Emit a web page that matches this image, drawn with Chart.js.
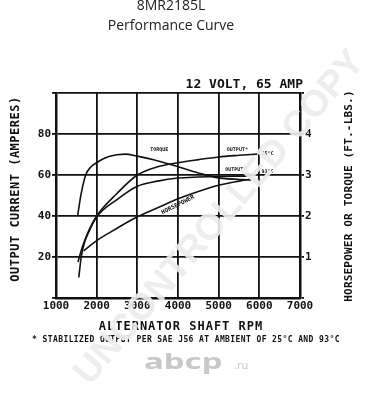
<!DOCTYPE html>
<html>
<head>
<meta charset="utf-8">
<script src="https://cdn.jsdelivr.net/npm/chart.js@4.4.1/dist/chart.umd.min.js"></script>
<style>
  html, body { margin: 0; padding: 0; background: #fff; }
  #perfChart { display: block; }
</style>
</head>
<body>
<canvas id="perfChart" width="371" height="400"></canvas>
<script>
// tick labels
const rpmTicks = [1000, 2000, 3000, 4000, 5000, 6000, 7000];
const ampTicks = [20, 40, 60, 80];
const hpTicks = [1, 2, 3, 4];

// output current at 25°C (amperes)
const out25Rpm  = [1540, 1650, 1780, 2000, 2500, 3000, 3500, 4000, 4500, 5000, 5500, 5950];
const out25Amps = [17.6, 25, 31.7, 40, 51, 60, 64, 66, 67.5, 68.8, 69.6, 70.2];

// output current at 93°C (amperes)
const out93Rpm  = [1560, 1620, 1700, 1800, 2000, 2500, 3000, 3500, 4000, 4500, 5000, 5800];
const out93Amps = [10, 20, 27, 32, 39.5, 48, 54.5, 57, 58.5, 59, 59.3, 59.5];

// torque (ft.-lbs.)
const torqueRpm = [1530, 1620, 1730, 1850, 2000, 2300, 2700, 3000, 3400, 4000, 4500, 5000, 5800];
const torqueVal = [2.0, 2.55, 3.0, 3.19, 3.3, 3.45, 3.51, 3.46, 3.37, 3.2, 3.05, 2.93, 2.88];

// horsepower
const hpRpm = [1680, 2000, 2500, 3000, 3500, 4000, 4500, 5000, 5500, 5800];
const hpVal = [1.15, 1.4, 1.7, 1.98, 2.2, 2.42, 2.6, 2.75, 2.85, 2.9];

const MONO = '"DejaVu Sans Mono", "Liberation Mono", monospace';

function pts(xs, ys) {
  return xs.map((x, i) => ({ x: x, y: ys[i] }));
}

function line(data, axis) {
  return {
    data: data,
    yAxisID: axis,
    borderColor: '#111',
    borderWidth: 1.6,
    pointRadius: 0,
    fill: false,
    cubicInterpolationMode: 'monotone'
  };
}

// texts around and inside the chart
const textPlugin = {
  id: 'textPlugin',
  afterDraw(chart) {
    const c = chart.ctx;
    const sx = chart.scales.x, sy = chart.scales.y;
    c.save();
    c.fillStyle = '#222';
    c.textAlign = 'center';
    c.textBaseline = 'alphabetic';
    c.font = '14px "Open Sans", "Noto Sans", sans-serif';
    c.fillText('8MR2185L', 171, 10);
    c.fillText('Performance Curve', 171, 30);

    c.fillStyle = '#111';
    c.font = 'bold 13px ' + MONO;
    c.textAlign = 'right';
    c.fillText('12 VOLT, 65 AMP', 303, 88);

    c.textAlign = 'center';
    c.font = 'bold 12px ' + MONO;
    c.letterSpacing = '1px';
    c.fillText('ALTERNATOR SHAFT RPM', 181, 330);
    c.font = 'bold 8px ' + MONO;
    c.letterSpacing = '0.4px';
    c.fillText('* STABILIZED OUTPUT PER SAE J56 AT AMBIENT OF 25°C AND 93°C', 186, 342);
    c.letterSpacing = '0px';

    // axis titles
    c.save();
    c.translate(19, 189);
    c.rotate(-Math.PI / 2);
    c.font = 'bold 12px ' + MONO;
    c.letterSpacing = '0.5px';
    c.fillText('OUTPUT CURRENT (AMPERES)', 0, 0);
    c.restore();
    c.save();
    c.translate(352, 196);
    c.rotate(-Math.PI / 2);
    c.font = 'bold 11px ' + MONO;
    c.letterSpacing = '0.2px';
    c.fillText('HORSEPOWER OR TORQUE (FT.-LBS.)', 0, 0);
    c.restore();

    // curve labels
    c.font = 'bold 5px ' + MONO;
    c.textBaseline = 'middle';
    const lab = (t, r, a) => c.fillText(t, sx.getPixelForValue(r), sy.getPixelForValue(a));
    lab('TORQUE', 3540, 72.2);
    lab('OUTPUT*', 5460, 72.2);
    lab('25°C', 6200, 70.2);
    lab('OUTPUT*', 5420, 62.4);
    lab('93°C', 6200, 61.5);
    c.save();
    c.translate(sx.getPixelForValue(4000), sy.getPixelForValue(45.4));
    c.rotate(-0.47);
    c.font = 'bold 6px ' + MONO;
    c.fillText('HORSEPOWER', 0, 0);
    c.restore();

    // site logo
    c.fillStyle = '#c8c8c8';
    c.textBaseline = 'alphabetic';
    c.textAlign = 'left';
    c.save();
    c.translate(144, 369);
    c.scale(1.5, 1);
    c.font = 'bold 22px "Noto Sans", sans-serif';
    c.fillText('abcp', 0, 0);
    c.restore();
    c.font = '11px "Noto Sans", sans-serif';
    c.fillText('.ru', 234, 369);

    // watermark
    c.save();
    c.translate(220, 218);
    c.rotate(-0.865);
    c.font = 'bold 37px "Liberation Sans", Arial, sans-serif';
    c.textAlign = 'center';
    c.textBaseline = 'middle';
    c.fillStyle = 'rgba(236,236,236,0.92)';
    c.fillText('UNCONTROLLED COPY', 0, 0);
    c.restore();
    c.restore();
  }
};

new Chart(document.getElementById('perfChart'), {
  type: 'line',
  data: {
    datasets: [
      line(pts(out25Rpm, out25Amps), 'y'),
      line(pts(out93Rpm, out93Amps), 'y'),
      line(pts(torqueRpm, torqueVal), 'y2'),
      line(pts(hpRpm, hpVal), 'y2')
    ]
  },
  options: {
    responsive: false,
    animation: false,
    layout: { padding: { top: 93, left: 0, right: 0, bottom: 0 } },
    plugins: { legend: { display: false }, tooltip: { enabled: false } },
    scales: {
      x: {
        type: 'linear',
        min: 1000,
        max: 7000,
        afterBuildTicks: s => { s.ticks = rpmTicks.map(v => ({ value: v })); },
        afterFit: s => { s.height = 102; },
        grid: { color: '#111', lineWidth: 1.8, drawTicks: false },
        border: { color: '#111', width: 2.5 },
        ticks: {
          padding: 2,
          color: '#111',
          maxRotation: 0,
          callback: v => String(v),
          font: { family: MONO, size: 11, weight: 'bold' }
        }
      },
      y: {
        position: 'left',
        min: 0,
        max: 100,
        ticks: {
          stepSize: 20,
          padding: 1,
          color: '#111',
          callback: v => ampTicks.includes(v) ? String(v) : '',
          font: { family: MONO, size: 11, weight: 'bold' }
        },
        afterFit: s => { s.width = 56; },
        grid: { color: '#111', lineWidth: 1.8, tickLength: 4 },
        border: { color: '#111', width: 2.5 }
      },
      y2: {
        position: 'right',
        min: 0,
        max: 5,
        ticks: {
          stepSize: 1,
          padding: 1,
          color: '#111',
          callback: v => hpTicks.includes(v) ? String(v) : '',
          font: { family: MONO, size: 11, weight: 'bold' }
        },
        afterFit: s => { s.width = 71; },
        grid: { drawOnChartArea: false, color: '#111', lineWidth: 1.8, tickLength: 4 },
        border: { color: '#111', width: 2.5 }
      }
    }
  },
  plugins: [textPlugin]
});
</script>
</body>
</html>
